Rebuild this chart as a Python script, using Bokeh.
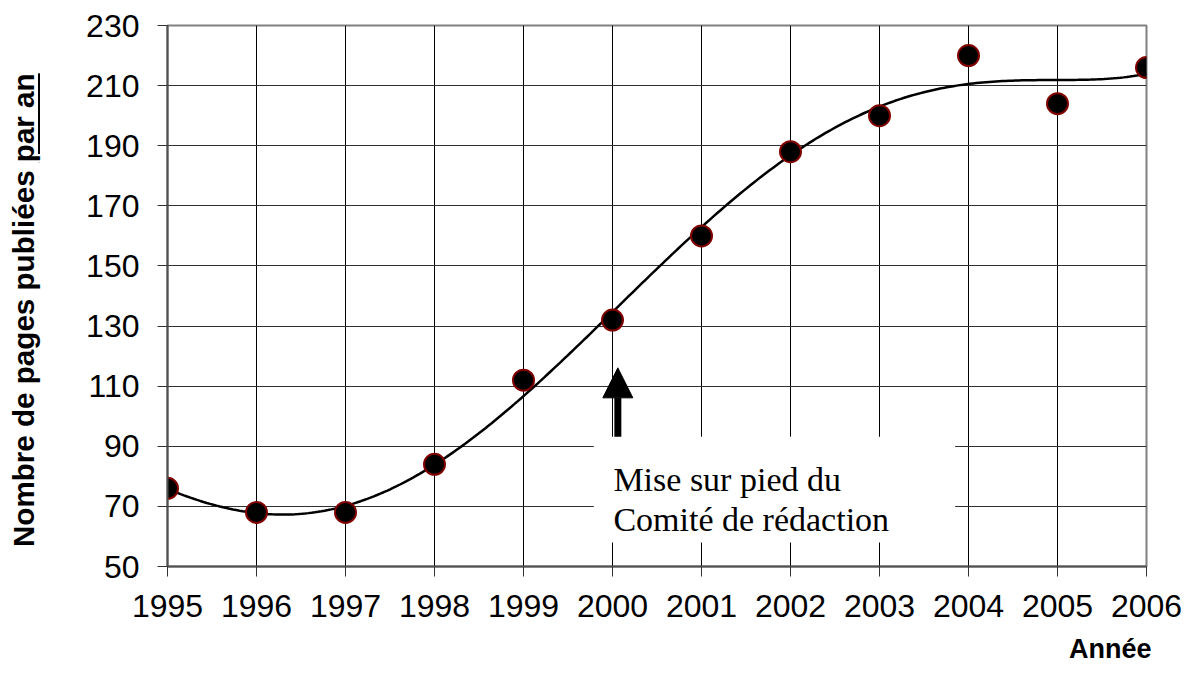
import numpy as np
from bokeh.plotting import figure
from bokeh.layouts import row
from bokeh.models import Range1d, FixedTicker, Label, Arrow, NormalHead, ColumnDataSource, Title, Div
from bokeh.embed import file_html
from bokeh.resources import INLINE

# ---- data ----
years = [1995, 1996, 1997, 1998, 1999, 2000, 2001, 2002, 2003, 2004, 2005, 2006]
pages = [76, 68, 68, 84, 112, 132, 160, 188, 200, 220, 204, 216]
y_ticks = [50, 70, 90, 110, 130, 150, 170, 190, 210, 230]
y_label_main = "Nombre de pages publiées "
y_label_under = "par an"
x_label = "Année"
note_lines = ["Mise sur pied du", "Comité de rédaction"]
note_year = 2000.06
trend_degree = 5

# polynomial trend line fitted to the data (as in the original chart)
xc = np.array(years, dtype=float) - 2000.0
coef = np.polyfit(xc, np.array(pages, dtype=float), trend_degree)
tx = np.linspace(years[0], years[-1], 300)
ty = np.polyval(coef, tx - 2000.0)

DW = 60
W, H = 1130, 675
p = figure(width=W, height=H, output_backend="svg", toolbar_location=None,
           x_range=Range1d(1995, 2006), y_range=Range1d(50, 230),
           min_border_left=167 - DW, min_border_right=W - (1146 - DW), min_border_top=25,
           min_border_bottom=108)
p.background_fill_color = "white"
p.border_fill_color = "white"
p.outline_line_color = "#808080"
p.outline_line_width = 2

for ax in (p.xaxis[0], p.yaxis[0]):
    ax.major_label_text_font = "Liberation Sans"
    ax.major_label_text_font_size = "32px"
    ax.major_label_text_color = "black"
    ax.major_tick_out = 10
    ax.major_tick_in = 0
    ax.minor_tick_out = 0
    ax.minor_tick_in = 0
    ax.major_tick_line_color = "#333333"
    ax.major_tick_line_width = 1
    ax.axis_line_color = "#505050"
    ax.axis_line_width = 2
    ax.major_label_standoff = 18

p.xaxis[0].ticker = FixedTicker(ticks=years)
p.yaxis[0].ticker = FixedTicker(ticks=y_ticks)

p.xgrid.ticker = FixedTicker(ticks=years)
p.ygrid.ticker = FixedTicker(ticks=y_ticks)
p.xgrid.grid_line_color = "black"
p.ygrid.grid_line_color = "#303030"
p.xgrid.grid_line_width = 1
p.ygrid.grid_line_width = 1

# white box behind the note (hides the grid)
p.quad(left=1999.79, right=2003.85, top=93.17, bottom=57.96,
       fill_color="white", line_color=None)

p.line(tx, ty, line_color="black", line_width=2.5)

src = ColumnDataSource(dict(x=years, y=pages))
p.scatter("x", "y", source=src, size=21, fill_color="black",
          line_color="#800000", line_width=2)

p.add_layout(Arrow(end=NormalHead(size=30, fill_color="black", line_color="black"),
                   x_start=note_year, y_start=93.2, x_end=note_year, y_end=116.1,
                   line_width=7, line_color="black"))

for i, t in enumerate(note_lines):
    p.add_layout(Label(x=2000.01, y=[78.9, 65.6][i], text=t,
                       text_font="Liberation Serif", text_font_size="34px",
                       text_color="black", text_baseline="alphabetic", text_align="left"))

p.add_layout(Title(text=x_label, align="right", text_font="Liberation Sans",
                   text_font_style="bold", text_font_size="27px", text_color="black",
                   standoff=24, offset=-5), "below")

div_html = (
    '<div style="position:relative;width:%dpx;height:%dpx;">'
    '<span style="position:absolute;left:9px;top:547px;white-space:nowrap;'
    'font-family:\'Liberation Sans\';font-weight:bold;font-size:29.6px;line-height:29px;'
    'color:black;transform-origin:0 0;transform:rotate(-90deg);">'
    '%s<span style="text-decoration:underline;text-decoration-thickness:2px;'
    'text-underline-offset:4px;">%s</span></span></div>'
) % (DW, H, y_label_main, y_label_under)
d = Div(text=div_html, width=DW, height=H, margin=0)

layout = row(d, p, spacing=0)
open("out.html", "w").write(file_html(layout, INLINE))
